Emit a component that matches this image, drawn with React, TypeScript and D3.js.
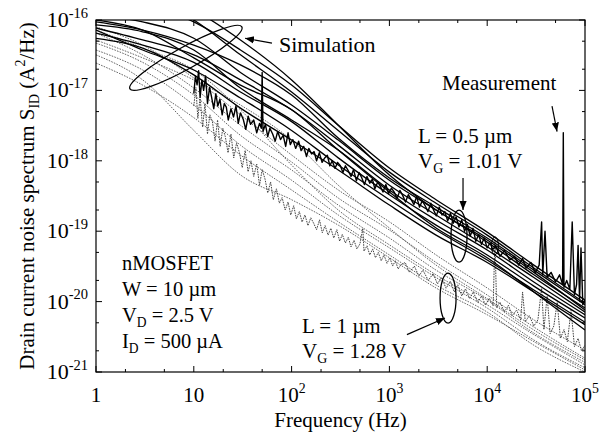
import React, { useEffect, useRef } from 'react';
import * as d3 from 'd3';

// frequencies at which the simulated spectra were read off
const simFreqs = [1, 3, 10, 30, 100, 300, 1e3, 3e3, 1e4, 3e4, 1e5];

// simulation, L = 0.5 um (solid black)
const simShort = [
  [1.92e-16, 1.63e-16, 9.4e-17, 3.75e-17, 1.19e-17, 3.2e-18, 7.9e-19, 2.8e-19, 9.7e-20, 3.3e-20, 1.05e-20],
  [3.1e-16, 2.3e-16, 1e-16, 3.2e-17, 9.5e-18, 2.7e-18, 6.9e-19, 2.5e-19, 8.8e-20, 3e-20, 9.5e-21],
  [9.4e-17, 7.2e-17, 4.4e-17, 2.3e-17, 8.6e-18, 2.1e-18, 5.7e-19, 2.2e-19, 8e-20, 2.8e-20, 9e-21],
  [1.18e-16, 9.4e-17, 5.5e-17, 1.8e-17, 6.2e-18, 1.97e-18, 5.3e-19, 2e-19, 7e-20, 2.4e-20, 8.1e-21],
  [7.7e-17, 5.2e-17, 3.2e-17, 1.41e-17, 5.3e-18, 1.67e-18, 4.5e-19, 1.7e-19, 6e-20, 2.2e-20, 7.1e-21],
  [8.5e-17, 6.8e-17, 3.75e-17, 1.08e-17, 3.8e-18, 1.42e-18, 3.85e-19, 1.44e-19, 5.4e-20, 1.9e-20, 6.5e-21],
  [6.5e-17, 4.4e-17, 2.5e-17, 9.5e-18, 3.6e-18, 1.1e-18, 3.3e-19, 1.22e-19, 4.6e-20, 1.66e-20, 5.85e-21],
  [7.2e-17, 3.75e-17, 1.95e-17, 7.8e-18, 2.7e-18, 8.7e-19, 2.8e-19, 1.04e-19, 3.9e-20, 1.46e-20, 5.1e-21],
  [5.5e-17, 4e-17, 1.66e-17, 5.6e-18, 1.97e-18, 7.4e-19, 2.35e-19, 8.8e-20, 3.6e-20, 1.37e-20, 4.7e-21],
  [1e-16, 7.2e-17, 2.9e-17, 1.19e-17, 5.3e-18, 1.42e-18, 3.6e-19, 1.11e-19, 4.2e-20, 1.37e-20, 3.95e-21],
  [3.7e-16, 2.67e-16, 1.39e-16, 5.2e-17, 1.41e-17, 3.2e-18, 6.3e-19, 2e-19, 7.5e-20, 2.6e-20, 7.6e-21],
];

// simulation, L = 1 um (grey dotted)
const simLong = [
  [8e-17, 4.4e-17, 1.5e-17, 4.5e-18, 1.21e-18, 3.85e-19, 1.36e-19, 4.6e-20, 1.56e-20, 5.5e-21, 2.05e-21],
  [6.5e-17, 3.2e-17, 1.08e-17, 3.2e-18, 9.6e-19, 2.96e-19, 1.04e-19, 3.6e-20, 1.24e-20, 4.36e-21, 1.57e-21],
  [4.7e-17, 2.5e-17, 8.6e-18, 2.3e-18, 7.4e-19, 2.35e-19, 8e-20, 2.8e-20, 1.05e-20, 3.58e-21, 1.37e-21],
  [3.75e-17, 1.95e-17, 6.2e-18, 1.67e-18, 5.3e-19, 1.7e-19, 5.8e-20, 2.2e-20, 8.1e-21, 2.85e-21, 1.15e-21],
  [2.45e-17, 1.19e-17, 4.1e-18, 1.21e-18, 3.85e-19, 1.36e-19, 4.6e-20, 1.72e-20, 7.1e-21, 2.4e-21, 1e-21],
  [5.2e-17, 2.9e-17, 1.41e-17, 6.2e-18, 1.97e-18, 4.5e-19, 1.11e-19, 3.3e-20, 1.1e-20, 3.95e-21, 1.48e-21],
  [7.2e-17, 4e-17, 1.95e-17, 5.3e-18, 8.7e-19, 2e-19, 6.4e-20, 2.4e-20, 9e-21, 3.4e-21, 1.26e-21],
  [3.2e-17, 1.41e-17, 2.7e-18, 6.3e-19, 2.8e-19, 1.22e-19, 4.2e-20, 1.56e-20, 6.5e-21, 2.7e-21, 1.07e-21],
];

// measurement, L = 0.5 um, VG = 1.01 V  [f, S]
const measShort = [
  [10, 9e-18], [10.4, 1.6e-17], [10.8, 1.2e-17], [11.2, 1.9e-17], [11.6, 8e-18], [12.1, 1.4e-17],
  [12.6, 1e-17], [13.2, 1.6e-17], [13.8, 6.5e-18], [14.5, 1.1e-17], [15.2, 8e-18], [16, 5.5e-18],
  [16.8, 9e-18], [17.6, 6e-18], [18.5, 7.5e-18], [19.5, 4.5e-18], [20.5, 6.5e-18], [21.5, 5.8e-18],
  [22.5, 3.8e-18], [24, 5.5e-18], [25.5, 4.2e-18], [27, 6e-18], [28.5, 3.4e-18], [30, 4.8e-18],
  [32, 3.9e-18], [34, 2.8e-18], [36, 4.3e-18], [38, 3.3e-18], [41, 3.8e-18], [44, 2.5e-18],
  [47, 3.4e-18], [49, 2.9e-18], [50, 1.8e-17], [51, 2.6e-18], [54, 3.3e-18], [57, 2.2e-18],
  [60, 2.9e-18], [64, 2.4e-18], [68, 1.9e-18], [72, 2.6e-18], [77, 2e-18], [82, 2.3e-18],
  [87, 1.6e-18], [92, 2.5e-18], [97, 1.7e-18], [103, 2e-18], [110, 1.5e-18], [118, 1.9e-18],
  [125, 1.4e-18], [133, 1.6e-18], [142, 1.15e-18], [150, 1.5e-18], [160, 1.25e-18], [170, 1.35e-18],
  [180, 1e-18], [192, 1.3e-18], [205, 9.5e-19], [218, 1.1e-18], [232, 1.2e-18], [246, 8.5e-19],
  [260, 1e-18], [278, 7.8e-19], [295, 9.5e-19], [315, 8.5e-19], [335, 6.8e-19], [355, 8.5e-19],
  [380, 7.2e-19], [405, 6e-19], [430, 7.5e-19], [460, 5.2e-19], [490, 6.8e-19], [520, 5.8e-19],
  [555, 4.6e-19], [590, 6e-19], [630, 4.8e-19], [670, 5.5e-19], [710, 4e-19], [760, 5e-19],
  [810, 4.3e-19], [860, 3.6e-19], [920, 4.6e-19], [980, 3.4e-19], [1050, 4.1e-19], [1120, 3.6e-19],
  [1200, 2.9e-19], [1280, 3.8e-19], [1370, 3.2e-19], [1460, 2.6e-19], [1560, 3.3e-19], [1670, 2.8e-19],
  [1780, 2.4e-19], [1900, 3.1e-19], [2030, 2.2e-19], [2170, 2.7e-19], [2320, 2.3e-19], [2480, 1.9e-19],
  [2650, 2.5e-19], [2830, 2e-19], [3020, 1.65e-19], [3230, 2.2e-19], [3450, 1.7e-19], [3690, 1.9e-19],
  [3940, 1.4e-19], [4210, 1.8e-19], [4500, 1.3e-19], [4810, 1.6e-19], [5140, 1.15e-19], [5490, 1.45e-19],
  [5870, 1e-19], [6270, 1.25e-19], [6700, 8.5e-20], [7160, 1.1e-19], [7650, 7.2e-20], [8170, 9e-20],
  [8730, 6.5e-20], [9330, 8e-20], [9970, 5.8e-20], [1.07e4, 6.8e-20], [1.14e4, 5.5e-20], [1.22e4, 6.2e-20],
  [1.35e4, 4.4e-20], [1.5e4, 5.3e-20], [1.7e4, 3.9e-20], [1.9e4, 4.4e-20], [2.1e4, 3.3e-20],
  [2.3e4, 4.1e-20], [2.5e4, 3e-20], [2.8e4, 3.6e-20], [3.1e4, 2.6e-20], [3.4e4, 3.3e-20],
  [3.6e4, 1.35e-19], [3.7e4, 2.4e-20], [3.9e4, 1e-19], [4.1e4, 2.2e-20], [4.5e4, 2.6e-20], [5e4, 1.9e-20],
  [5.5e4, 2.4e-20], [5.9e4, 1.75e-20], [6e4, 2.5e-18], [6.1e4, 1.6e-20], [6.5e4, 2e-20], [7e4, 1.5e-20],
  [7.4e4, 1.35e-19], [7.8e4, 1.25e-20], [8.2e4, 1.75e-20], [8.5e4, 6.3e-20], [8.8e4, 1.05e-20],
  [9.1e4, 5.8e-20], [9.5e4, 9e-21], [1e5, 1.05e-20],
];

// measurement, L = 1 um, VG = 1.28 V  [f, S]
const measLong = [
  [10, 6e-18], [10.5, 1.1e-17], [11, 4e-18], [11.6, 8e-18], [12.3, 3e-18], [13, 6.5e-18], [13.8, 2.4e-18],
  [14.6, 4.5e-18], [15.5, 3.6e-18], [16.5, 1.9e-18], [17.5, 3.8e-18], [18.6, 1.6e-18], [19.8, 2.9e-18],
  [21, 2.2e-18], [22.4, 1.3e-18], [24, 2.4e-18], [25.6, 1.1e-18], [27.4, 1.8e-18], [29.3, 1.3e-18],
  [31.3, 8e-19], [33.5, 1.4e-18], [35.9, 7e-19], [38.4, 1e-18], [41, 6e-19], [44, 9e-19], [47, 4.5e-19],
  [50, 7.5e-19], [53.5, 5.5e-19], [57, 3.5e-19], [61, 5e-19], [65, 2.8e-19], [70, 4e-19], [75, 2.5e-19],
  [80, 3e-19], [86, 2e-19], [92, 2.6e-19], [98, 1.7e-19], [105, 2.3e-19], [112, 1.5e-19], [120, 1.9e-19],
  [128, 1.35e-19], [137, 1.7e-19], [147, 1.2e-19], [157, 1.55e-19], [168, 1.3e-19], [180, 1.05e-19],
  [193, 1.45e-19], [206, 9.5e-20], [220, 1.2e-19], [236, 8.8e-20], [252, 1.1e-19], [270, 8e-20],
  [290, 1.05e-19], [310, 7.2e-20], [330, 9e-20], [355, 6.8e-20], [380, 8.2e-20], [405, 6e-20],
  [435, 7.4e-20], [465, 5.6e-20], [500, 6.6e-20], [535, 1.1e-19], [550, 5.2e-20], [590, 6.2e-20],
  [630, 4.6e-20], [675, 5.6e-20], [720, 4.2e-20], [770, 5e-20], [825, 3.8e-20], [880, 4.6e-20],
  [945, 3.5e-20], [1010, 4.2e-20], [1080, 3.2e-20], [1150, 3.8e-20], [1230, 2.9e-20], [1300, 3.3e-20],
  [1450, 3.6e-20], [1600, 2.6e-20], [1800, 3.2e-20], [2000, 2.3e-20], [2200, 2.8e-20], [2500, 2e-20],
  [2800, 2.5e-20], [3100, 1.78e-20], [3400, 2.2e-20], [3800, 1.55e-20], [4200, 1.95e-20], [4600, 1.37e-20],
  [5000, 1.73e-20], [5500, 1.2e-20], [6000, 1.52e-20], [6600, 1.1e-20], [7200, 1.37e-20], [8000, 9.8e-21],
  [8800, 1.2e-20], [9600, 8.9e-21], [1.05e4, 1.12e-20], [1.15e4, 8.7e-21], [1.2e4, 7.5e-20], [1.25e4, 8.2e-21],
  [1.35e4, 9.8e-21], [1.5e4, 7.1e-21], [1.65e4, 8.9e-21], [1.8e4, 6.3e-21], [2e4, 7.6e-21], [2.2e4, 5.5e-21],
  [2.3e4, 1.37e-20], [2.45e4, 5.2e-21], [2.7e4, 6.3e-21], [3e4, 4.5e-21], [3.3e4, 5.5e-21], [3.6e4, 1.55e-20],
  [3.8e4, 4e-21], [4.1e4, 1.2e-20], [4.4e4, 3.5e-21], [4.8e4, 4.5e-21], [5.2e4, 9.8e-21], [5.6e4, 3e-21],
  [6.1e4, 4e-21], [6.6e4, 2.7e-21], [7.2e4, 7.5e-21], [7.8e4, 2.3e-21], [8.5e4, 3e-21], [9.2e4, 2e-21],
  [1e5, 2.4e-21],
];

const xDecades = [1, 10, 100, 1e3, 1e4, 1e5];
const xTickLabels = ['1', '10', '10^2', '10^3', '10^4', '10^5'];
const yDecades = [1e-16, 1e-17, 1e-18, 1e-19, 1e-20, 1e-21];
const yTickLabels = ['-16', '-17', '-18', '-19', '-20', '-21'];

// annotation anchors in data space: [f, S]
const simEllipse = [8.3, 2.9e-17];
const shortEllipse = [5150, 8.5e-20];
const spikeEllipse = [1.2e4, 6.2e-20];
const longEllipse = [3980, 1.12e-20];
const arrows = [
  [[63, 4.7e-17], [33.4, 5.5e-17]],
  [[46000, 6e-18], [51800, 2.6e-18]],
  [[5660, 5.7e-19], [5660, 2e-19]],
  [[1510, 3.4e-21], [3700, 5.85e-21]],
];

const FONT = '"Liberation Serif", "Times New Roman", serif';

const App = () => {
  const svgRef = useRef<SVGSVGElement>(null);

  useEffect(() => {
    document.body.style.margin = '0';
    const width = 607;
    const height = 434;
    const margin = { top: 20, right: 22, bottom: 62, left: 96 };
    const x0 = margin.left, x1 = width - margin.right;
    const y0 = margin.top, y1 = height - margin.bottom;

    const svg = d3.select(svgRef.current);
    svg.selectAll('*').remove();
    svg.attr('width', width).attr('height', height);
    svg.append('rect').attr('width', width).attr('height', height).attr('fill', '#fff');

    const x = d3.scaleLog().domain([1, 1e5]).range([x0, x1]);
    const y = d3.scaleLog().domain([1e-21, 1e-16]).range([y1, y0]);

    const defs = svg.append('defs');
    defs.append('clipPath').attr('id', 'plot-clip')
      .append('rect').attr('x', x0).attr('y', y0).attr('width', x1 - x0).attr('height', y1 - y0);
    defs.append('marker')
      .attr('id', 'head').attr('viewBox', '0 0 10 10').attr('refX', 10).attr('refY', 5)
      .attr('markerWidth', 9).attr('markerHeight', 9).attr('markerUnits', 'userSpaceOnUse')
      .attr('orient', 'auto')
      .append('path').attr('d', 'M0,1 L10,5 L0,9 Z').attr('fill', '#000');

    const plot = svg.append('g').attr('clip-path', 'url(#plot-clip)');

    const simLine = d3.line<number>()
      .x((_, i) => x(simFreqs[i]))
      .y(d => y(d))
      .curve(d3.curveMonotoneX);
    const measLine = d3.line<number[]>().x(d => x(d[0])).y(d => y(d[1]));

    // grey dotted: simulation L = 1 um
    plot.selectAll('.sim-long').data(simLong).enter().append('path')
      .attr('d', d => simLine(d))
      .attr('fill', 'none').attr('stroke', '#555').attr('stroke-width', 0.9)
      .attr('stroke-dasharray', '1.6,1.2');

    // grey dotted: measurement L = 1 um
    plot.append('path').attr('d', measLine(measLong))
      .attr('fill', 'none').attr('stroke', '#444').attr('stroke-width', 1)
      .attr('stroke-dasharray', '1.6,1');

    // solid: simulation L = 0.5 um
    plot.selectAll('.sim-short').data(simShort).enter().append('path')
      .attr('d', d => simLine(d))
      .attr('fill', 'none').attr('stroke', '#000').attr('stroke-width', 1.3);

    // solid: measurement L = 0.5 um
    plot.append('path').attr('d', measLine(measShort))
      .attr('fill', 'none').attr('stroke', '#000').attr('stroke-width', 1.4)
      .attr('stroke-linejoin', 'round');

    // frame
    svg.append('rect').attr('x', x0).attr('y', y0).attr('width', x1 - x0).attr('height', y1 - y0)
      .attr('fill', 'none').attr('stroke', '#000').attr('stroke-width', 1.2);

    // ticks on all four sides, inward; minor at 2 and 5
    const ticks = svg.append('g').attr('stroke', '#000').attr('stroke-width', 1);
    const xMinor = xDecades.slice(0, -1).flatMap(d => [2 * d, 5 * d]);
    const yMinor = yDecades.slice(1).flatMap(d => [2 * d, 5 * d]);
    const xt = [...xDecades.map(v => [v, 6]), ...xMinor.map(v => [v, 3])];
    const yt = [...yDecades.map(v => [v, 6]), ...yMinor.map(v => [v, 3])];
    xt.forEach(([v, l]) => {
      ticks.append('line').attr('x1', x(v)).attr('x2', x(v)).attr('y1', y1).attr('y2', y1 - l);
      ticks.append('line').attr('x1', x(v)).attr('x2', x(v)).attr('y1', y0).attr('y2', y0 + l);
    });
    yt.forEach(([v, l]) => {
      ticks.append('line').attr('y1', y(v)).attr('y2', y(v)).attr('x1', x0).attr('x2', x0 + l);
      ticks.append('line').attr('y1', y(v)).attr('y2', y(v)).attr('x1', x1).attr('x2', x1 - l);
    });

    // rich text helper: parts of [text, 'sub' | 'sup' | '']
    const rich = (g: any, px: number, py: number, parts: [string, string][], size: number, anchor = 'start') => {
      const t = g.append('text').attr('x', px).attr('y', py)
        .style('font-family', FONT).attr('font-size', size).attr('text-anchor', anchor).attr('fill', '#000');
      let shift = 0;
      parts.forEach(([s, kind]) => {
        const target = kind === 'sub' ? size * 0.22 : kind === 'sup' ? -size * 0.42 : 0;
        t.append('tspan').attr('dy', target - shift)
          .attr('font-size', kind ? size * 0.66 : size).text(s);
        shift = target;
      });
      return t;
    };

    // tick labels
    xDecades.forEach((v, i) => {
      const [b, e] = xTickLabels[i].split('^');
      rich(svg, x(v), y1 + 30, e ? [[b, ''], [e, 'sup']] : [[b, '']], 21, 'middle');
    });
    yDecades.forEach((v, i) => {
      rich(svg, x0 - 8, y(v) + 7, [['10', ''], [yTickLabels[i], 'sup']], 22, 'end');
    });

    // axis titles
    svg.append('text').attr('x', (x0 + x1) / 2).attr('y', 427).attr('text-anchor', 'middle')
      .style('font-family', FONT).attr('font-size', 21).text('Frequency (Hz)');
    const yt2 = rich(svg, 0, 0, [['Drain current noise spectrum S', ''], ['ID', 'sub'], [' (A', ''], ['2', 'sup'], ['/Hz)', '']], 21, 'middle');
    yt2.attr('transform', `translate(34,${(y0 + y1) / 2}) rotate(-90)`);

    // annotations
    const ann = svg.append('g').attr('fill', 'none').attr('stroke', '#000').attr('stroke-width', 1.3);
    ann.append('ellipse')
      .attr('transform', `translate(${x(simEllipse[0])},${y(simEllipse[1])}) rotate(-29)`)
      .attr('rx', 64).attr('ry', 11);
    ann.append('ellipse').attr('cx', x(shortEllipse[0])).attr('cy', y(shortEllipse[1])).attr('rx', 8).attr('ry', 26);
    ann.append('ellipse').attr('cx', x(spikeEllipse[0])).attr('cy', y(spikeEllipse[1])).attr('rx', 3.5).attr('ry', 9)
      .attr('stroke-width', 1);
    ann.append('ellipse').attr('cx', x(longEllipse[0])).attr('cy', y(longEllipse[1])).attr('rx', 8).attr('ry', 25);
    arrows.forEach(([a, b]) => {
      ann.append('line').attr('x1', x(a[0])).attr('y1', y(a[1])).attr('x2', x(b[0])).attr('y2', y(b[1]))
        .attr('stroke-width', 1.2).attr('marker-end', 'url(#head)');
    });

    const labels = svg.append('g');
    rich(labels, 279, 52, [['Simulation', '']], 22);
    rich(labels, 442, 90, [['Measurement', '']], 21);
    rich(labels, 418, 143, [['L = 0.5 \u00b5m', '']], 21);
    rich(labels, 418, 168, [['V', ''], ['G', 'sub'], [' = 1.01 V', '']], 21);
    rich(labels, 302, 333, [['L = 1 \u00b5m', '']], 21);
    rich(labels, 302, 358, [['V', ''], ['G', 'sub'], [' = 1.28 V', '']], 21);
    rich(labels, 122, 270, [['nMOSFET', '']], 20.5);
    rich(labels, 122, 296, [['W = 10 \u00b5m', '']], 20.5);
    rich(labels, 122, 322, [['V', ''], ['D', 'sub'], [' = 2.5 V', '']], 20.5);
    rich(labels, 122, 348, [['I', ''], ['D', 'sub'], [' = 500 \u00b5A', '']], 20.5);
  }, []);

  return <svg ref={svgRef} style={{ display: 'block' }} />;
};

export default App;
